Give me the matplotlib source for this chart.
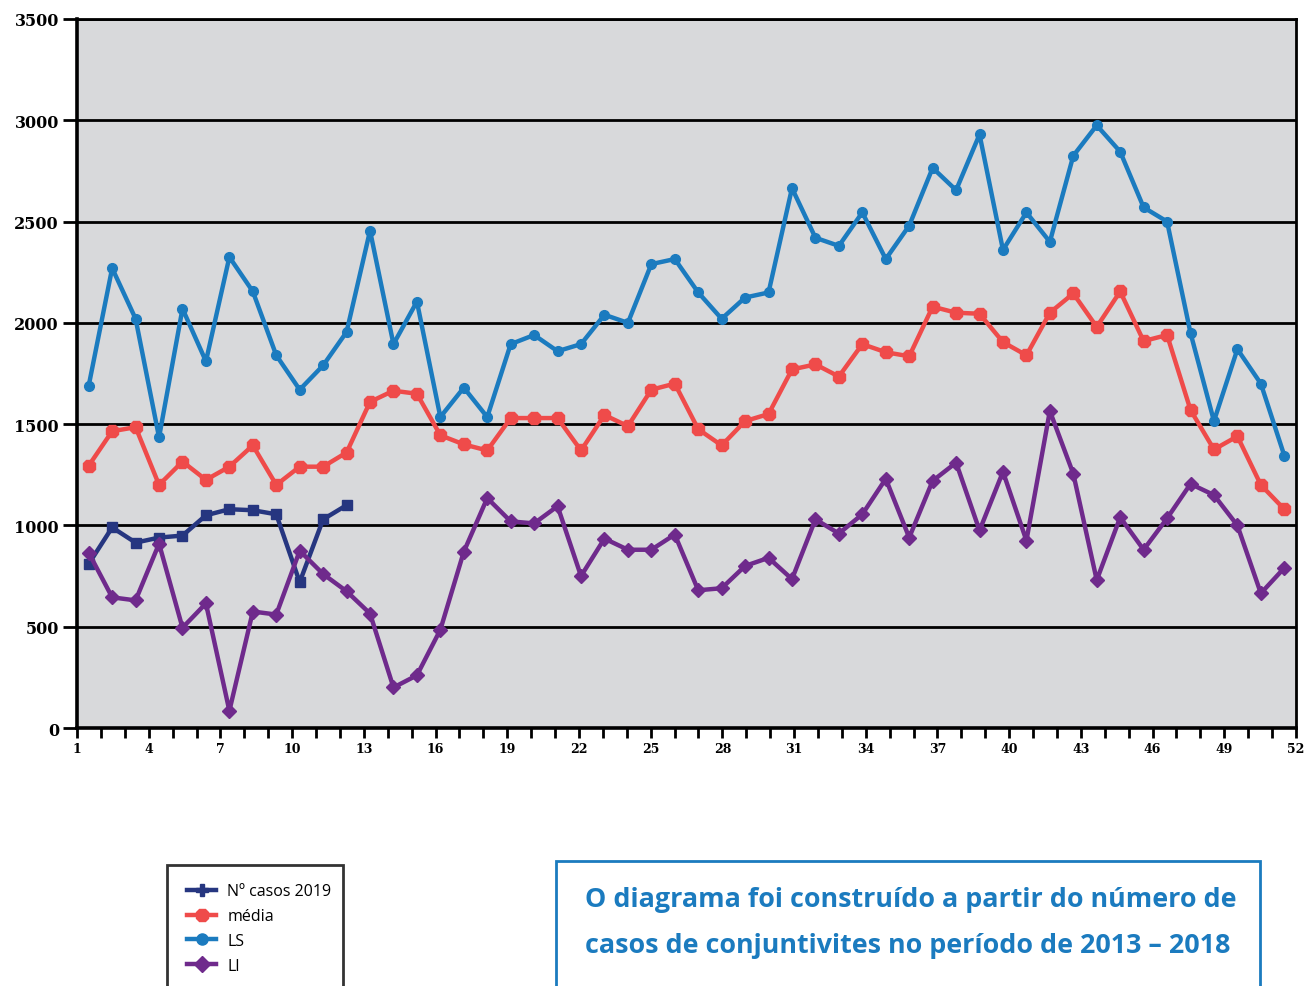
import numpy as np
import matplotlib
matplotlib.use("Agg")
import matplotlib.pyplot as plt
from matplotlib.lines import Line2D
from matplotlib.patches import Rectangle

# weeks 1..52
weeks = np.arange(1, 53)

casos_2019 = [810, 990, 915, 940, 950, 1050, 1080, 1075, 1055, 720, 1030, 1100]

media = [1295, 1465, 1485, 1200, 1315, 1225, 1290, 1395, 1200, 1290,
         1290, 1360, 1610, 1665, 1650, 1445, 1400, 1370, 1530, 1530,
         1530, 1370, 1545, 1490, 1670, 1700, 1475, 1395, 1515, 1550,
         1770, 1795, 1735, 1895, 1855, 1835, 2080, 2050, 2045, 1905,
         1840, 2050, 2145, 1980, 2155, 1910, 1940, 1570, 1375, 1440,
         1200, 1080]

ls = [1690, 2270, 2020, 1435, 2070, 1810, 2325, 2155, 1840, 1670,
      1790, 1955, 2455, 1895, 2105, 1535, 1680, 1535, 1895, 1940,
      1860, 1895, 2040, 2000, 2290, 2315, 2150, 2020, 2125, 2150,
      2665, 2420, 2380, 2545, 2315, 2480, 2765, 2655, 2930, 2360,
      2545, 2400, 2825, 2975, 2845, 2570, 2500, 1950, 1515, 1870,
      1700, 1345]

li = [865, 645, 630, 910, 495, 615, 85, 575, 560, 875,
      760, 675, 565, 200, 260, 485, 870, 1135, 1020, 1010,
      1095, 750, 935, 880, 880, 955, 680, 690, 800, 840,
      735, 1030, 960, 1055, 1230, 940, 1220, 1310, 975, 1265,
      925, 1565, 1255, 730, 1040, 880, 1035, 1205, 1150, 1000,
      665, 790]

y_ticks = [0, 500, 1000, 1500, 2000, 2500, 3000, 3500]
x_labels = list(range(1, 53))

c_casos = "#263680"
c_media = "#ef4b4a"
c_ls = "#1b7bbf"
c_li = "#6f2a8c"
c_bg = "#d8d9db"

fig = plt.figure(figsize=(13.09, 9.87), dpi=100)
ax = fig.add_axes([77 / 1309, 1 - 729 / 987, (1296 - 77) / 1309, (729 - 20) / 987])
ax.set_facecolor(c_bg)

# data points sit in the middle of 52 categories
idx = np.arange(len(weeks))
ax.plot(idx, ls, color=c_ls, lw=3.2, marker="o", ms=7, zorder=3)
ax.plot(idx, media, color=c_media, lw=3.2, marker="8", ms=10, zorder=3)
ax.plot(idx[:len(casos_2019)], casos_2019, color=c_casos, lw=3.2, marker="s", ms=6.5, zorder=4)
ax.plot(idx, li, color=c_li, lw=3.2, marker="D", ms=7.5, zorder=4)

ax.set_xlim(-0.5, len(weeks) - 0.5)
ax.set_ylim(0, 3500)

# tick marks spread evenly across the full axis width
tick_pos = np.linspace(-0.5, len(weeks) - 0.5, len(x_labels))
ax.set_xticks(tick_pos)
ax.set_xticklabels([str(v) if (v - 1) % 3 == 0 else "" for v in x_labels],
                   family="DejaVu Serif", fontweight="bold", fontsize=9)
ax.set_yticks(y_ticks)
ax.set_yticklabels([str(v) for v in y_ticks], family="DejaVu Serif",
                   fontweight="bold", fontsize=11.5)
ax.tick_params(axis="x", length=7, width=2, direction="out", pad=3)
ax.tick_params(axis="y", length=10, width=2, direction="out", pad=3)

ax.grid(axis="y", color="black", lw=2)
ax.set_axisbelow(True)
for side in ["left", "bottom"]:
    ax.spines[side].set_linewidth(2.6)
ax.spines["right"].set_linewidth(2)
ax.spines["top"].set_linewidth(2)

# legend box (cut off at the bottom of the image)
fig.patches.append(Rectangle((167 / 1309, -0.05), (343 - 167) / 1309, 0.05 + (987 - 866) / 987,
                             transform=fig.transFigure, fill=False,
                             edgecolor="#333333", lw=2))
handles = [
    Line2D([], [], color=c_casos, lw=3.2, marker="P", ms=9),
    Line2D([], [], color=c_media, lw=3.2, marker="8", ms=10),
    Line2D([], [], color=c_ls, lw=3.2, marker="o", ms=8),
    Line2D([], [], color=c_li, lw=3.2, marker="D", ms=8),
]
labels = ["Nº casos 2019", "média", "LS", "LI"]
fig.legend(handles, labels, loc="upper left", bbox_to_anchor=(173 / 1309, 1 - 870 / 987),
           frameon=False, handlelength=1.8, handletextpad=0.7, labelspacing=0.55,
           prop={"family": "Open Sans", "size": 11.5})

# note box
fig.patches.append(Rectangle((556 / 1309, -0.05), (1260 - 556) / 1309, 0.05 + (987 - 862) / 987,
                             transform=fig.transFigure, fill=False,
                             edgecolor=c_ls, lw=2))
note_font = {"family": "Open Sans", "fontweight": "bold",
             "fontsize": 19.4, "color": c_ls}
fig.text(585 / 1309, 1 - 900 / 987, "O diagrama foi construído a partir do número de",
         va="center", ha="left", **note_font)
fig.text(585 / 1309, 1 - 946 / 987, "casos de conjuntivites no período de 2013 – 2018",
         va="center", ha="left", **note_font)

fig.savefig("out.png", dpi=100)
